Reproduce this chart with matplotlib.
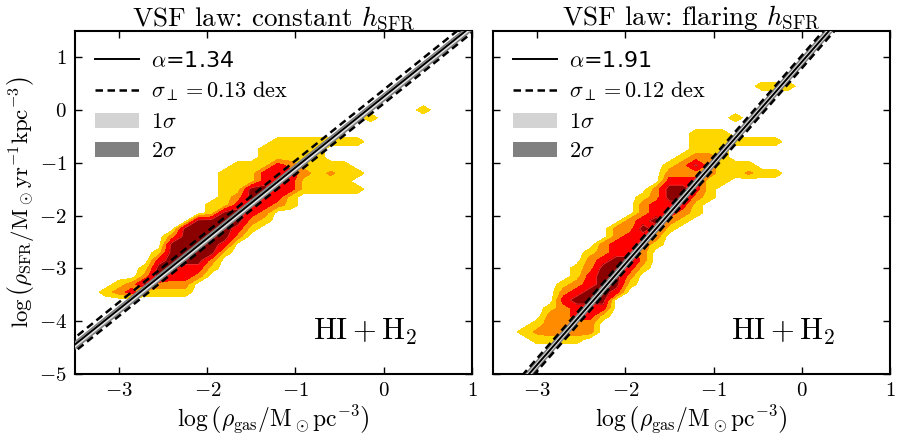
import numpy as np
import matplotlib
matplotlib.use('Agg')
import matplotlib.pyplot as plt
from matplotlib.lines import Line2D
from matplotlib.patches import Patch
from matplotlib.ticker import FuncFormatter

plt.rcParams['mathtext.fontset'] = 'cm'
plt.rcParams['font.family'] = ['cmr10', 'DejaVu Serif']
plt.rcParams['axes.formatter.use_mathtext'] = True

# ---------------- data ----------------
# gas-density bin centres (log rho_gas) shared by both panels
GAS_BINS = [-3.30, -3.15, -3.00, -2.85, -2.70, -2.55, -2.40, -2.25, -2.10,
            -1.95, -1.80, -1.65, -1.50, -1.35, -1.20, -1.05, -0.90, -0.75,
            -0.60, -0.45, -0.30, -0.15, 0.00, 0.15, 0.30, 0.45, 0.60]

# SFR-density bin centres (log rho_SFR), per panel (top row first)
SFR_BINS_CONST = [0.15, 0.00, -0.15, -0.30, -0.45, -0.60, -0.75, -0.90, -1.05,
                  -1.20, -1.35, -1.50, -1.65, -1.80, -1.95, -2.10, -2.25, -2.40,
                  -2.55, -2.70, -2.85, -3.00, -3.15, -3.30, -3.45, -3.60, -3.75]
SFR_BINS_FLARE = [0.60, 0.45, 0.30, 0.15, 0.00, -0.15, -0.30, -0.45, -0.60,
                  -0.75, -0.90, -1.05, -1.20, -1.35, -1.50, -1.65, -1.80, -1.95,
                  -2.10, -2.25, -2.40, -2.55, -2.70, -2.85, -3.00, -3.15, -3.30,
                  -3.45, -3.60, -3.75, -3.90, -4.05, -4.20, -4.35, -4.50]

# density level of each bin: '.'=empty, 1..4 contour level, o/d = faint peaks
DENSITY_CONST = [
    "...........................",
    ".........................1.",
    ".....................1.....",
    "...........................",
    "...........................",
    "..............1111111......",
    ".............11111.........",
    ".............11111.........",
    "...........111321111.......",
    "..........11133321o11......",
    "..........1113331111.......",
    "..........11443311111......",
    "..........124331...........",
    ".........1133321...........",
    ".........14432.............",
    "........444421.............",
    ".......444431..............",
    "......244442...............",
    "......44443................",
    ".....144441................",
    ".....34442.................",
    "....144331.................",
    "....24332..................",
    "..124222...................",
    ".1231111...................",
    "...........................",
    "...........................",
]

DENSITY_FLARE = [
    "...........................",
    "...................111.....",
    "...........................",
    "...........................",
    "...........................",
    ".................1.........",
    "...........................",
    "..............111..........",
    "..............1111111......",
    "..............111..........",
    ".............1221..........",
    "............12d2111........",
    "............222211o11......",
    "............33311..........",
    "...........24431...........",
    "..........124421...........",
    "..........23331............",
    "..........23321............",
    ".........23421.............",
    "........22431..............",
    "........2332...............",
    ".......23321...............",
    "......12332................",
    "......23442................",
    ".....124431................",
    ".....13442.................",
    "....123441.................",
    "....23443..................",
    "....3444...................",
    "...12333...................",
    "...22331...................",
    "..12222....................",
    ".1o2222....................",
    "..1111.....................",
    "...........................",
]
LEVEL_CODE = {'.': 0.0, '1': 1.0, '2': 2.0, '3': 3.0, '4': 4.0, 'o': 1.7, 'd': 3.7}

# fitted relations
SLOPES = [1.34, 1.91]
INTERCEPTS = [0.25, 0.906]
SIGMA_PERP = [0.13, 0.12]
BAND_1SIG = [0.045, 0.055]
BAND_2SIG = [0.085, 0.100]

TITLES = ['VSF law: constant $h_{\\mathrm{SFR}}$',
          'VSF law: flaring $h_{\\mathrm{SFR}}$']
X_TICKS = [-3, -2, -1, 0, 1]
Y_TICKS = [-5, -4, -3, -2, -1, 0, 1]
XLIM = (-3.5, 1.0)
YLIM = (-5.0, 1.5)

LEVELS = [0.5, 1.5, 2.5, 3.5, 5.0]
FILL_COLORS = ['#FFD700', '#FF8C00', '#FF0000', '#8B0000']


def grid_from_strings(rows):
    ncol = len(GAS_BINS)
    return np.array([[LEVEL_CODE[ch] for ch in r.ljust(ncol, '.')[:ncol]]
                     for r in rows])


# ---------------- figure ----------------
fig = plt.figure(figsize=(8.98, 4.38), dpi=100)
axes = [fig.add_axes([0.0835, 0.146, 0.442, 0.784]),
        fig.add_axes([0.549, 0.146, 0.442, 0.784])]

panels = [(SFR_BINS_CONST, DENSITY_CONST), (SFR_BINS_FLARE, DENSITY_FLARE)]
fmt = FuncFormatter(lambda v, p: r'$%g$' % v)

for i, ax in enumerate(axes):
    ybins, rows = panels[i]
    Z = grid_from_strings(rows)
    X, Y = np.meshgrid(GAS_BINS, ybins)
    ax.contourf(X, Y, Z, levels=LEVELS, colors=FILL_COLORS, zorder=1)
    ax.contour(X, Y, Z, levels=[3.5], colors=['#ff3030'], linewidths=0.6,
               zorder=1.5)

    a, b, s = SLOPES[i], INTERCEPTS[i], SIGMA_PERP[i]
    xx = np.array([XLIM[0] - 0.5, XLIM[1] + 0.5])
    yy = a * xx + b
    ax.fill_between(xx, yy - BAND_2SIG[i], yy + BAND_2SIG[i], color='gray',
                    lw=0, zorder=3)
    ax.fill_between(xx, yy - BAND_1SIG[i], yy + BAND_1SIG[i],
                    color='#e4e4e4', lw=0, zorder=4)
    ax.plot(xx, yy, color='k', lw=1.4, zorder=5)
    for sign in (-1, 1):
        ax.plot(xx, yy + sign * s, color='k', lw=1.8, ls=(0, (3, 1.8)),
                zorder=5)

    ax.set_xlim(*XLIM)
    ax.set_ylim(*YLIM)
    ax.set_xticks(X_TICKS)
    ax.set_yticks(Y_TICKS)
    ax.xaxis.set_major_formatter(fmt)
    ax.yaxis.set_major_formatter(fmt)
    ax.tick_params(direction='in', top=True, right=True, length=5, width=1,
                   labelsize=15, pad=6)
    for sp in ax.spines.values():
        sp.set_linewidth(1.5)
    ax.set_title(TITLES[i], fontsize=19.5, pad=4)
    ax.set_xlabel(r'$\log\left(\rho_{\rm gas}/{\rm M_\odot pc^{-3}}\right)$',
                  fontsize=17, labelpad=2)
    ax.text(0.60, 0.10, r'$\mathrm{HI+H_2}$', transform=ax.transAxes,
            fontsize=22, ha='left', va='baseline')

    handles = [Line2D([], [], color='k', lw=1.4),
               Line2D([], [], color='k', lw=1.8, ls=(0, (3, 1.8))),
               Patch(facecolor='lightgrey', edgecolor='none'),
               Patch(facecolor='gray', edgecolor='none')]
    labels = [r'$\alpha$=%.2f' % a,
              r'$\sigma_\perp=%.2f\ \mathrm{dex}$' % s,
              r'$1\sigma$', r'$2\sigma$']
    ax.legend(handles, labels, loc='upper left', frameon=False,
              prop={'family': 'DejaVu Sans', 'size': 16},
              handlelength=2.0, handletextpad=0.5, labelspacing=0.4)

axes[0].set_ylabel(
    r'$\log\left(\rho_{\rm SFR}/{\rm M_\odot yr^{-1} kpc^{-3}}\right)$',
    fontsize=16.5, labelpad=2)
axes[1].tick_params(labelleft=False)

fig.savefig('out.png', dpi=100)
